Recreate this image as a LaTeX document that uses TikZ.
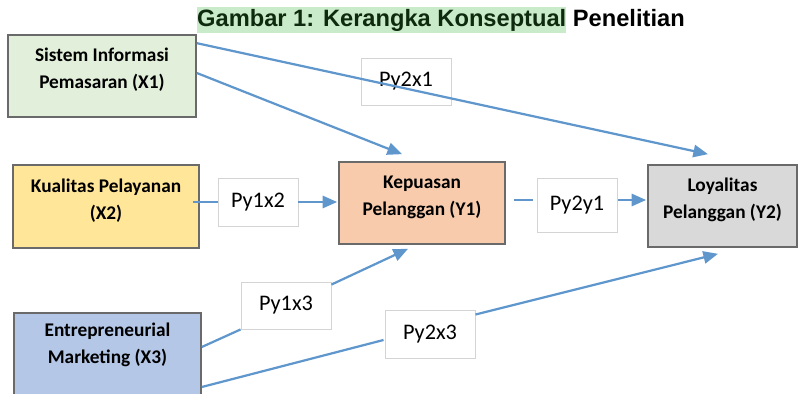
\documentclass[tikz,border=0pt]{standalone}
\usepackage{fontspec}
\setmainfont{Carlito}
\newfontfamily\titlefont{Liberation Sans}
\usepackage{xcolor}
\usetikzlibrary{arrows.meta,calc}

\definecolor{xonefill}{HTML}{E2EFDA}
\definecolor{xtwofill}{HTML}{FFE699}
\definecolor{xthreefill}{HTML}{B4C7E7}
\definecolor{yonefill}{HTML}{F8CBAD}
\definecolor{ytwofill}{HTML}{D9D9D9}
\definecolor{boxgray}{HTML}{6A6A6A}
\definecolor{coefgray}{HTML}{D4D4D4}
\definecolor{linkblue}{HTML}{5F97CD}
\definecolor{hlgreen}{HTML}{CAEBCA}
\definecolor{titlegreen}{HTML}{0E2A0E}

\begin{document}
\begin{tikzpicture}[x=0.03cm,y=-0.03cm]
\tikzstyle{var}=[draw=boxgray, line width=1.4pt, inner sep=0pt, align=center, font=\fontsize{16.5}{23}\selectfont\bfseries, text depth=13pt]
\tikzstyle{coef}=[draw=coefgray, line width=0.8pt, fill=white, inner sep=0pt, font=\fontsize{19}{23}\selectfont]
\tikzstyle{link}=[draw=linkblue, line width=1.9pt]
\tikzstyle{arr}=[link, -{Triangle[length=12.5pt,width=10.5pt]}]
\useasboundingbox (0,0) rectangle (799,394);
\clip (0,0) rectangle (799,394);
% title
\node (title) [anchor=base west, inner sep=0pt, font=\titlefont\fontsize{20.2}{24}\selectfont\bfseries] at (197,27)
  {\setlength{\fboxsep}{0pt}\colorbox{hlgreen}{\color{titlegreen}\rule[-5pt]{0pt}{22pt}Gambar 1: Kerangka Konseptual} Penelitian};
% variables
\node (x1) [var, fill=xonefill, minimum width=5.64cm, minimum height=2.46cm] at (102,76) {Sistem Informasi\\Pemasaran (X1)};
\node (x2) [var, fill=xtwofill, minimum width=5.58cm, minimum height=2.49cm] at (106,206.5) {Kualitas Pelayanan\\(X2)};
\node (x3) [var, fill=xthreefill, minimum width=5.61cm, minimum height=2.61cm, text depth=22pt] at (107.5,356.5) {Entrepreneurial\\Marketing (X3)};
\node (y1) [var, fill=yonefill, minimum width=4.98cm, minimum height=2.46cm] at (422,203) {Kepuasan\\Pelanggan (Y1)};
\node (y2) [var, fill=ytwofill, minimum width=4.47cm, minimum height=2.46cm] at (722.5,206) {Loyalitas\\Pelanggan (Y2)};
% path coefficients
\node (py2x1) [coef, minimum width=2.7cm, minimum height=1.41cm] at (406,81.5) {Py2x1};
\node (py1x2) [coef, minimum width=2.4cm, minimum height=1.44cm] at (258,202) {Py1x2};
\node (py2y1) [coef, minimum width=2.4cm, minimum height=1.62cm] at (577,205) {Py2y1};
\node (py1x3) [coef, minimum width=2.7cm, minimum height=1.41cm] at (286,305.5) {Py1x3};
\node (py2x3) [coef, minimum width=2.7cm, minimum height=1.44cm] at (430,334) {Py2x3};
% connectors
\draw [arr] ($(x1.north east)+(0,9)$) -- ($(y2.north)+(-14.5,-10)$);
\draw [arr] ($(x1.east)+(0,-3)$) -- ($(y1.north)+(-20,-7)$);
\draw [link] ($(x2.east)+(-7,-4.5)$) -- (py1x2.west);
\draw [arr] (py1x2.east) -- ($(y1.west)+(-1,-1)$);
\draw [link] ($(y1.east)+(8,-3)$) -- ($(py2y1.west)+(-4,-5)$);
\draw [arr] ($(py2y1.east)+(1,-5)$) -- ($(y2.west)+(-1,-6)$);
\draw [link] ($(x3.east)+(0,-9.5)$) -- (py1x3.south west);
\draw [arr] ($(py1x3.north east)+(0,3)$) -- ($(y1.south)+(-14,4)$);
\draw [link] ($(x3.east)+(0,30.5)$) -- ($(py2x3.west)+(-1,6)$);
\draw [arr] ($(py2x3.north east)+(0,5)$) -- ($(y2.south)+(-4.5,6)$);
\end{tikzpicture}
\end{document}
